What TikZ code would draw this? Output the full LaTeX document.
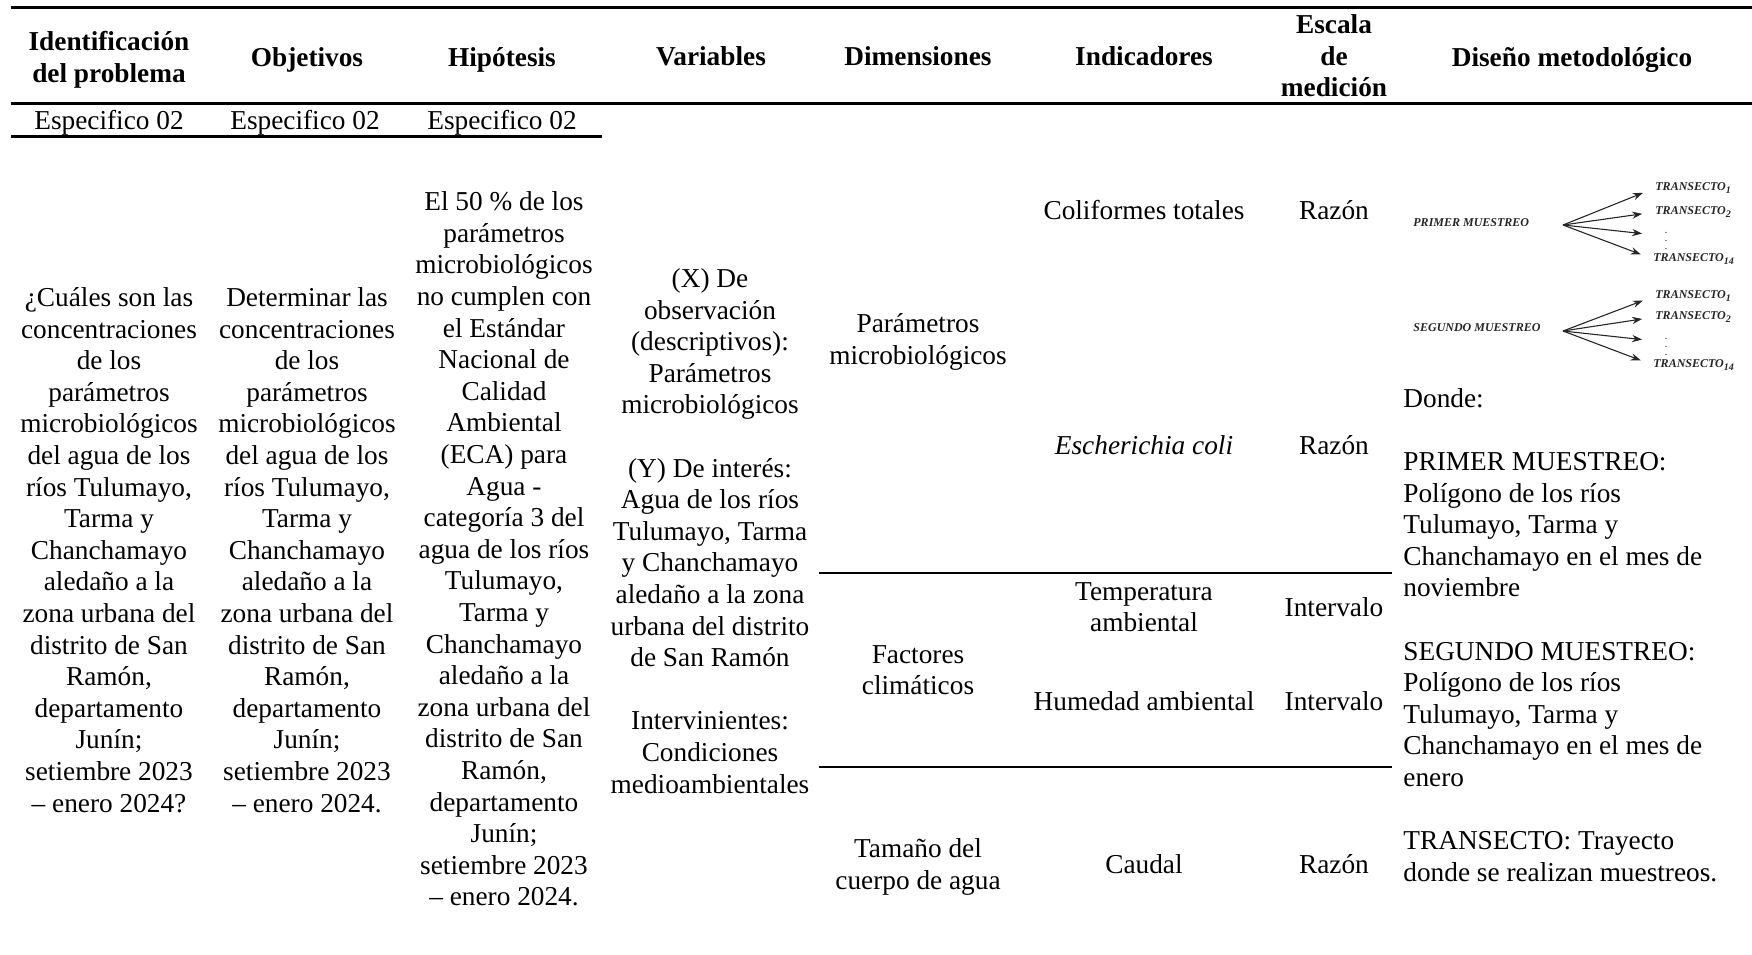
\documentclass[tikz,border=0pt]{standalone}
\usepackage{fontspec}
\setmainfont{Liberation Serif}
\usetikzlibrary{arrows.meta}
\newcommand\bodysize{\fontsize{13.65pt}{15.8pt}\selectfont}
\newcommand\diagsize{\fontsize{6pt}{7pt}\selectfont}
\begin{document}
\begin{tikzpicture}[x=0.5pt,y=-0.5pt,
  cell/.style={align=center,inner sep=0pt,font=\bodysize},
  head/.style={align=center,inner sep=0pt,font=\bodysize\bfseries},
  notes/.style={align=left,inner sep=0pt,font=\bodysize,anchor=west},
  thickrule/.style={line width=1.5pt},
  midrule/.style={line width=0.9pt},
  dlabel/.style={inner sep=0pt,font=\diagsize\bfseries\itshape,text=black!85,anchor=west},
  fan/.style={-{Stealth[length=5pt,width=3.6pt]},line width=0.55pt,black!85,shorten >=6.5pt}
]
\useasboundingbox (0,0) rectangle (1752,954);

% rules
\draw[thickrule] (11,7) -- (1752,7);
\draw[thickrule] (11,103) -- (1752,103);
\draw[thickrule] (11,136) -- (602,136);
\draw[midrule] (819,573) -- (1392,573);
\draw[midrule] (819,767) -- (1392,767);

% header
\node[head] (h1) at (109,60) {Identificación\\del problema};
\node[head] (h2) at (307,59.5) {Objetivos};
\node[head] (h3) at (502,59.5) {Hipótesis};
\node[head] (h4) at (711,56) {Variables};
\node[head] (h5) at (918,56) {Dimensiones};
\node[head] (h6) at (1144,56) {Indicadores};
\node[head] (h7) at (1334,56) {Escala\\de\\medición};
\node[head] (h8) at (1572,59.5) {Diseño metodológico};

% especifico
\node[cell] (s1) at (109,123) {Especifico 02};
\node[cell] (s2) at (305,123) {Especifico 02};
\node[cell] (s3) at (502,123) {Especifico 02};

% body columns
\node[cell] (c1) at (109,550) {¿Cuáles son las\\concentraciones\\de los\\parámetros\\microbiológicos\\del agua de los\\ríos Tulumayo,\\Tarma y\\Chanchamayo\\aledaño a la\\zona urbana del\\distrito de San\\Ramón,\\departamento\\Junín;\\setiembre 2023\\– enero 2024?};
\node[cell] (c2) at (307,550) {Determinar las\\concentraciones\\de los\\parámetros\\microbiológicos\\del agua de los\\ríos Tulumayo,\\Tarma y\\Chanchamayo\\aledaño a la\\zona urbana del\\distrito de San\\Ramón,\\departamento\\Junín;\\setiembre 2023\\– enero 2024.};
\node[cell] (c3) at (504,549) {El 50 \% de los\\parámetros\\microbiológicos\\no cumplen con\\el Estándar\\Nacional de\\Calidad\\Ambiental\\(ECA) para\\Agua -\\categoría 3 del\\agua de los ríos\\Tulumayo,\\Tarma y\\Chanchamayo\\aledaño a la\\zona urbana del\\distrito de San\\Ramón,\\departamento\\Junín;\\setiembre 2023\\– enero 2024.};
\node[cell] (c4) at (710,531) {(X) De\\observación\\(descriptivos):\\Parámetros\\microbiológicos\\[15.8pt](Y) De interés:\\Agua de los ríos\\Tulumayo, Tarma\\y Chanchamayo\\aledaño a la zona\\urbana del distrito\\de San Ramón\\[15.8pt]Intervinientes:\\Condiciones\\medioambientales};

% dimensiones
\node[cell] (d1) at (918,342) {Parámetros\\microbiológicos};
\node[cell] (d2) at (918,670) {Factores\\climáticos};
\node[cell] (d3) at (918,867) {Tamaño del\\cuerpo de agua};

% indicadores
\node[cell] (i1) at (1144,210) {Coliformes totales};
\node[cell] (i2) at (1144,445) {\itshape Escherichia coli};
\node[cell] (i3) at (1144,607) {Temperatura\\ambiental};
\node[cell] (i4) at (1144,701) {Humedad ambiental};
\node[cell] (i5) at (1144,864) {Caudal};

% escala
\node[cell] (e1) at (1334,210) {Razón};
\node[cell] (e2) at (1334,445) {Razón};
\node[cell] (e3) at (1334,607) {Intervalo};
\node[cell] (e4) at (1334,701) {Intervalo};
\node[cell] (e5) at (1334,864) {Razón};

% diseño: diagram
\node[dlabel] (pm) at (1413,223) {PRIMER MUESTREO};
\coordinate (pms) at (1563,225);
\node[dlabel] (pt1) at (1655,188) {TRANSECTO\textsubscript{1}};
\node[dlabel] (pt2) at (1655,212) {TRANSECTO\textsubscript{2}};
\node[dlabel] (ptd) at (1655,235) {\hspace{5pt}\fontsize{4pt}{5pt}\selectfont$\vdots$};
\node[dlabel] (pt14) at (1653,259) {TRANSECTO\textsubscript{14}};
\draw[fan] (pms) -- (pt1.west);
\draw[fan] (pms) -- (pt2.west);
\draw[fan] (pms) -- (ptd.west);
\draw[fan] (pms) -- (pt14.west);

\node[dlabel] (sm) at (1413,328) {SEGUNDO MUESTREO};
\coordinate (sms) at (1563,331);
\node[dlabel] (st1) at (1655,296) {TRANSECTO\textsubscript{1}};
\node[dlabel] (st2) at (1655,317) {TRANSECTO\textsubscript{2}};
\node[dlabel] (std) at (1655,341) {\hspace{5pt}\fontsize{4pt}{5pt}\selectfont$\vdots$};
\node[dlabel] (st14) at (1653,365) {TRANSECTO\textsubscript{14}};
\draw[fan] (sms) -- (st1.west);
\draw[fan] (sms) -- (st2.west);
\draw[fan] (sms) -- (std.west);
\draw[fan] (sms) -- (st14.west);

% diseño: notes
\node[notes] (nt) at (1403,635) {Donde:\\[15.8pt]PRIMER MUESTREO:\\Polígono de los ríos\\Tulumayo, Tarma y\\Chanchamayo en el mes de\\noviembre\\[15.8pt]SEGUNDO MUESTREO:\\Polígono de los ríos\\Tulumayo, Tarma y\\Chanchamayo en el mes de\\enero\\[15.8pt]TRANSECTO: Trayecto\\donde se realizan muestreos.};
\end{tikzpicture}
\end{document}
